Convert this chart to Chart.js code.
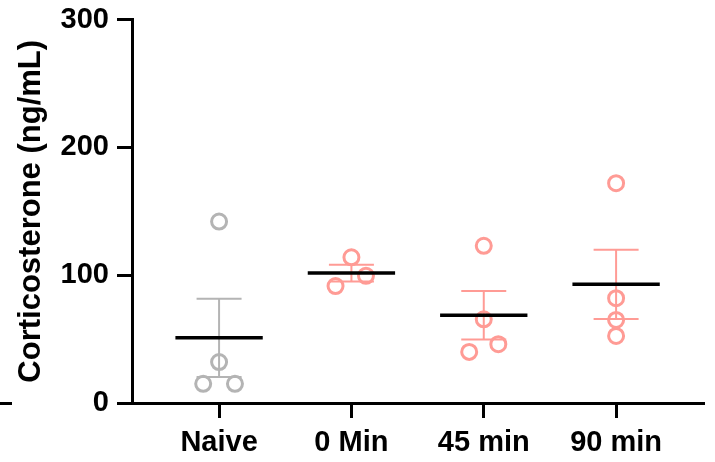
<!DOCTYPE html>
<html>
<head>
<meta charset="utf-8">
<script src="https://cdn.jsdelivr.net/npm/chart.js@4/dist/chart.umd.min.js"></script>
<style>
	html, body { margin: 0; padding: 0; background: #fff; }
	#wrap { width: 715px; height: 462px; }
</style>
</head>
<body>
<div id="wrap"><canvas id="chart" width="715" height="462"></canvas></div>
<script>
// data
var categories = ["Naive", "0 Min", "45 min", "90 min"];
var naiveValues = [142, 32, 15, 15];
var min0Values = [114, 91.5, 99.5];
var min45Values = [123, 65.5, 46, 40];
var min90Values = [172, 82, 65, 52.5];
var yTicks = [0, 100, 200, 300];

var groups = [naiveValues, min0Values, min45Values, min90Values];
var groupColors = ["#b4b4b4", "#ff9b95", "#ff9b95", "#ff9b95"];
// horizontal scatter of the dots inside each column
var jitter = [
	[0, 0, -0.12, 0.12],
	[0, -0.12, 0.11],
	[0, 0, 0.11, -0.11],
	[0, 0, 0, 0]
];
var FONT = "'Liberation Sans', Arial, sans-serif";

function mean(a) {
	var s = 0;
	for (var i = 0; i < a.length; i++) { s += a[i]; }
	return s / a.length;
}
function sem(a) {
	var m = mean(a), s = 0;
	for (var i = 0; i < a.length; i++) { s += (a[i] - m) * (a[i] - m); }
	return Math.sqrt(s / (a.length - 1)) / Math.sqrt(a.length);
}

var datasets = [];
groups.forEach(function(vals, g) {
	var m = mean(vals), e = sem(vals);
	// mean line
	datasets.push({
		type: "scatter",
		data: [{x: g - 0.33, y: m}, {x: g + 0.33, y: m}],
		showLine: true,
		borderColor: "#000",
		borderWidth: 3.5,
		pointRadius: 0,
		order: 1
	});
	// error bar with caps
	datasets.push({
		type: "scatter",
		data: [
			{x: g - 0.17, y: m + e}, {x: g + 0.17, y: m + e}, {x: g, y: null},
			{x: g, y: m + e}, {x: g, y: m - e}, {x: g, y: null},
			{x: g - 0.17, y: m - e}, {x: g + 0.17, y: m - e}
		],
		showLine: true,
		spanGaps: false,
		borderColor: groupColors[g],
		borderWidth: 2,
		pointRadius: 0,
		order: 2
	});
	// dots
	datasets.push({
		type: "scatter",
		data: vals.map(function(v, i) { return {x: g + jitter[g][i], y: v}; }),
		borderColor: groupColors[g],
		backgroundColor: "rgba(0,0,0,0)",
		borderWidth: 3,
		pointRadius: 7.5,
		order: 3
	});
});

var leftMark = {
	id: "leftMark",
	afterDraw: function(chart) {
		var ctx = chart.ctx;
		ctx.save();
		ctx.fillStyle = "#000";
		ctx.fillRect(0, 402, 12, 3);
		ctx.restore();
	}
};

new Chart(document.getElementById("chart"), {
	type: "scatter",
	data: { datasets: datasets },
	plugins: [leftMark],
	options: {
		responsive: false,
		animation: false,
		events: [],
		layout: { padding: { left: 0, top: 19, right: 8, bottom: 0 } },
		plugins: { legend: { display: false }, tooltip: { enabled: false } },
		scales: {
			x: {
				type: "linear",
				min: -0.658,
				max: 3.668,
				afterBuildTicks: function(scale) {
					scale.ticks = categories.map(function(c, i) { return {value: i}; });
				},
				afterFit: function(scale) { scale.height = 59; },
				border: { color: "#000", width: 3 },
				grid: { drawOnChartArea: false, tickLength: 15, tickWidth: 3, tickColor: "#000" },
				ticks: {
					color: "#000",
					padding: 8,
					maxRotation: 0,
					autoSkip: false,
					font: { family: FONT, size: 29, weight: "bold" },
					callback: function(v) { return categories[v]; }
				}
			},
			y: {
				min: 0,
				max: 300,
				afterBuildTicks: function(scale) {
					scale.ticks = yTicks.map(function(v) { return {value: v}; });
				},
				afterFit: function(scale) { scale.width = 132; },
				border: { color: "#000", width: 3 },
				grid: { drawOnChartArea: false, tickLength: 15, tickWidth: 3, tickColor: "#000" },
				ticks: {
					color: "#000",
					padding: 8,
					font: { family: FONT, size: 29, weight: "bold", lineHeight: 0.8 }
				},
				title: {
					display: true,
					text: "Corticosterone (ng/mL)",
					color: "#000",
					padding: { top: 13, bottom: 0 },
					font: { family: FONT, size: 31, weight: "bold" }
				}
			}
		}
	}
});
</script>
</body>
</html>
